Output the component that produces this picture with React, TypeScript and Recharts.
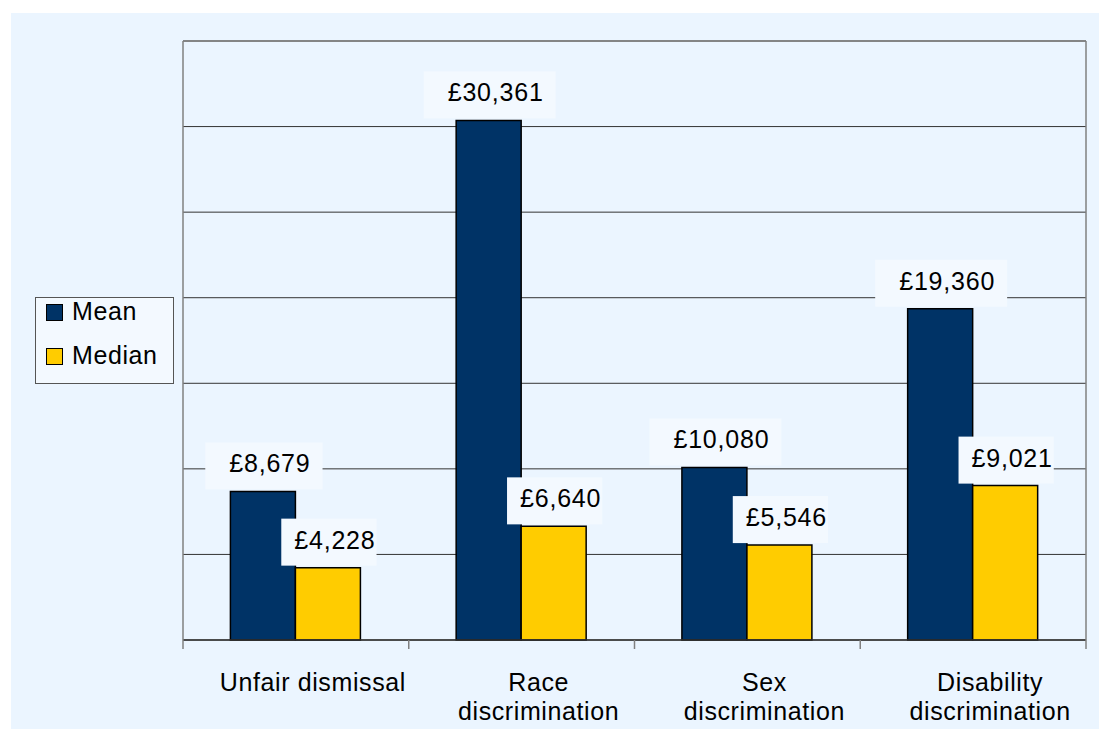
import { Bar, BarChart, CartesianGrid, LabelList, ReferenceLine, XAxis, YAxis } from "recharts";

const categories = ["Unfair dismissal", "Race discrimination", "Sex discrimination", "Disability discrimination"];
const tickLabels = [["Unfair dismissal"], ["Race", "discrimination"], ["Sex", "discrimination"], ["Disability", "discrimination"]];
const meanValues = [8679, 30361, 10080, 19360];
const medianValues = [4228, 6640, 5546, 9021];
const yTicks = [0, 5000, 10000, 15000, 20000, 25000, 30000, 35000];
const seriesNames = ["Mean", "Median"];
const seriesColors = ["#003366", "#FFCC00"];

const data = categories.map((c, i) => ({ name: c, mean: meanValues[i], median: medianValues[i] }));

const BG = "#EBF5FF";
const BOX = "#F3F9FF";
const FONT = "'Liberation Sans', Arial, sans-serif";
const W = 1096;
const H = 716;
const M = { top: 28, right: 20, left: 171, bottom: 0 };
const halfBand = (W - M.left - M.right - 2) / categories.length / 2;

const fmt = (v: number) => "£" + String(v).replace(/\B(?=(\d{3})+(?!\d))/g, ",");

function makeLabel(pad: number) {
    return (props: any) => {
        const { x, y, width, value } = props;
        const text = fmt(value);
        const tw = text.split("").reduce((s, ch) => s + (ch === "," ? 7.75 : 14.7), 0);
        const cx = x + width / 2;
        const bw = tw + pad;
        return (
            <g>
                <rect x={cx + 1 - bw / 2} y={y - 49} width={bw} height={47} fill={BOX} />
                <text x={cx + 7} y={y - 19} textAnchor="middle" fontSize={25} letterSpacing={0.8}
                    fontFamily={FONT} fill="#000">{text}</text>
            </g>
        );
    };
}

const EmptyTick = () => <g />;

function CategoryTick(props: any) {
    const { x, y, index } = props;
    const lines = tickLabels[index] || [];
    return (
        <g>
            <line x1={x - halfBand} x2={x - halfBand} y1={y} y2={y + 9} stroke="#808080" strokeWidth={1.5} />
            {index === categories.length - 1 &&
                <line x1={x + halfBand} x2={x + halfBand} y1={y} y2={y + 9} stroke="#808080" strokeWidth={1.5} />}
            {lines.map((l, i) =>
                <text key={i} x={x + 17} y={y + 51 + i * 29} textAnchor="middle" fontSize={25}
                    letterSpacing={0.6} fontFamily={FONT} fill="#000">{l}</text>)}
        </g>
    );
}

export default function App() {
    return (
        <div style={{ paddingLeft: 3, paddingTop: 5 }}>
            <div style={{ position: "relative", width: W, height: H, background: BG }}>
                <BarChart width={W} height={H} data={data} margin={M} barCategoryGap="21%" barGap={0}>
                    <CartesianGrid vertical={false} stroke="#333" />
                    <XAxis dataKey="name" height={89} tickSize={0} tickMargin={0} tickLine={false}
                        axisLine={{ stroke: "#333", strokeWidth: 1.5 }} tick={<CategoryTick />} interval={0} />
                    <YAxis domain={[0, 35000]} ticks={yTicks} width={1} tick={<EmptyTick />} tickLine={false}
                        axisLine={{ stroke: "#808080", strokeWidth: 1.5 }} interval={0} />
                    <YAxis yAxisId="r" orientation="right" domain={[0, 35000]} ticks={yTicks} width={1}
                        tick={<EmptyTick />} tickLine={false} axisLine={{ stroke: "#808080", strokeWidth: 1.5 }} />
                    <ReferenceLine y={35000} stroke="#808080" strokeWidth={1.5} />
                    <Bar dataKey="mean" name={seriesNames[0]} fill={seriesColors[0]} stroke="#000" strokeWidth={1.5}
                        isAnimationActive={false}>
                        <LabelList dataKey="mean" content={makeLabel(36)} />
                    </Bar>
                    <Bar dataKey="median" name={seriesNames[1]} fill={seriesColors[1]} stroke="#000" strokeWidth={1.5}
                        isAnimationActive={false}>
                        <LabelList dataKey="median" content={makeLabel(14)} />
                    </Bar>
                </BarChart>
                <div style={{
                    position: "absolute", left: 24, top: 284, width: 139, height: 87, boxSizing: "border-box",
                    border: "1px solid #555", background: BOX, fontFamily: FONT, fontSize: 25, letterSpacing: 0.6
                }}>
                    {seriesNames.map((n, i) => (
                        <div key={n} style={{ position: "absolute", left: 0, top: i * 44 }}>
                            <div style={{
                                position: "absolute", left: 10, top: 6, width: 17, height: 17, boxSizing: "border-box",
                                border: "1.5px solid #000", background: seriesColors[i]
                            }} />
                            <span style={{ position: "absolute", left: 36, top: 0, lineHeight: "27px", whiteSpace: "nowrap" }}>{n}</span>
                        </div>
                    ))}
                </div>
            </div>
        </div>
    );
}
